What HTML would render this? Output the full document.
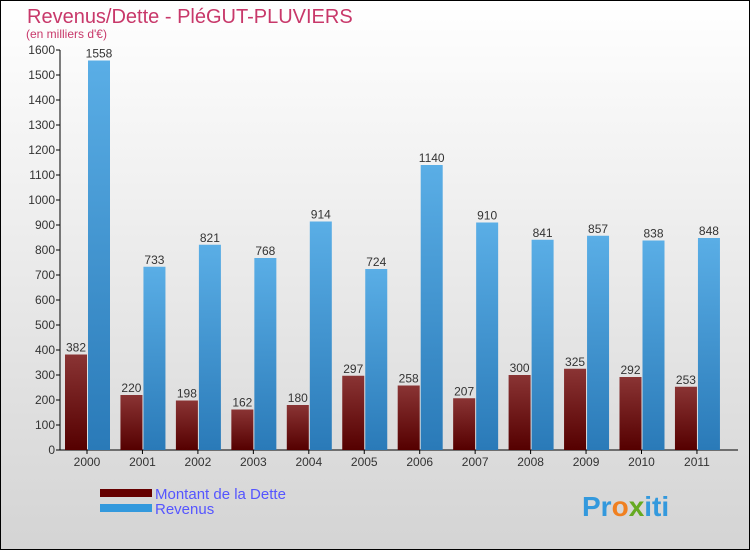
<!DOCTYPE html>
<html><head><meta charset="utf-8"><style>
body{margin:0;width:750px;height:550px;overflow:hidden}
svg text{font-family:"Liberation Sans",sans-serif}
</style></head><body>
<svg width="750" height="550" xmlns="http://www.w3.org/2000/svg">
<defs>
<linearGradient id="bg" x1="0" y1="0" x2="0" y2="1"><stop offset="0" stop-color="#ffffff"/><stop offset="1" stop-color="#d4d4d4"/></linearGradient>
<linearGradient id="gd" x1="0" y1="0" x2="0" y2="1"><stop offset="0" stop-color="#8a3434"/><stop offset="1" stop-color="#550000"/></linearGradient>
<linearGradient id="gr" x1="0" y1="0" x2="0" y2="1"><stop offset="0" stop-color="#5aaee6"/><stop offset="1" stop-color="#2a7ab8"/></linearGradient>
</defs>
<rect x="0.5" y="0.5" width="749" height="549" fill="url(#bg)" stroke="#000"/>
<text x="27" y="23" font-size="20" fill="#c8386a">Revenus/Dette - PléGUT-PLUVIERS</text>
<text x="26" y="38" font-size="12" fill="#c8386a">(en milliers d'€)</text>
<g id="ax"></g><g id="bars"></g>
<rect x="100" y="489" width="52" height="8" fill="#660000"/>
<rect x="100" y="504" width="52" height="8" fill="#3399dd"/>
<text x="155" y="499" font-size="15" fill="#5555ff">Montant de la Dette</text>
<text x="155" y="514" font-size="15" fill="#5555ff">Revenus</text>
<text x="582" y="516" font-size="28" font-weight="bold" fill="#3399dd">Pr<tspan fill="#f08020">o</tspan><tspan fill="#66aa22">x</tspan>iti</text>
</svg>
<script>
const years=["2000","2001","2002","2003","2004","2005","2006","2007","2008","2009","2010","2011"];
const dette=[382,220,198,162,180,297,258,207,300,325,292,253];
const revenus=[1558,733,821,768,914,724,1140,910,841,857,838,848];
const ticks=[0,100,200,300,400,500,600,700,800,900,1000,1100,1200,1300,1400,1500,1600];
const NS="http://www.w3.org/2000/svg";
const y0=450,ymax=1600,ph=400;
const y=v=>y0-v/ymax*ph;
const xc=i=>87+i*55.45;
function mk(tag,at,p,txt){const e=document.createElementNS(NS,tag);for(const k in at)e.setAttribute(k,at[k]);if(txt!=null)e.textContent=txt;p.appendChild(e);return e;}
const ax=document.getElementById('ax'),bars=document.getElementById('bars');
let a=mk('line',{x1:60,y1:50,x2:60,y2:450,stroke:'#000'},ax);


a=mk('line',{x1:60,y1:450,x2:738,y2:450,stroke:'#000'},ax);


ticks.forEach(t=>{
 mk('line',{x1:56,y1:y(t),x2:60,y2:y(t),stroke:'#000'},ax);
 const e=mk('text',{x:55,y:y(t)+4,'font-size':12,fill:'#333','text-anchor':'end'},ax,String(t));
 
 
});
years.forEach((yr,i)=>{
 const c=xc(i);
 mk('line',{x1:c,y1:450,x2:c,y2:454,stroke:'#000'},ax);
 const t=mk('text',{x:c,y:466,'font-size':12,fill:'#333','text-anchor':'middle'},ax,yr);
 
 
 const b1=mk('rect',{x:c-22,y:y(dette[i]),width:22,height:y0-y(dette[i]),fill:'url(#gd)'},bars);
 
 
 const b2=mk('rect',{x:c+1,y:y(revenus[i]),width:22,height:y0-y(revenus[i]),fill:'url(#gr)'},bars);
 
 
 const l1=mk('text',{x:c-11,y:y(dette[i])-3,'font-size':12,fill:'#333','text-anchor':'middle'},bars,String(dette[i]));
 
 
 const l2=mk('text',{x:c+12,y:y(revenus[i])-3,'font-size':12,fill:'#333','text-anchor':'middle'},bars,String(revenus[i]));
 
 
});
</script>
</body></html>
